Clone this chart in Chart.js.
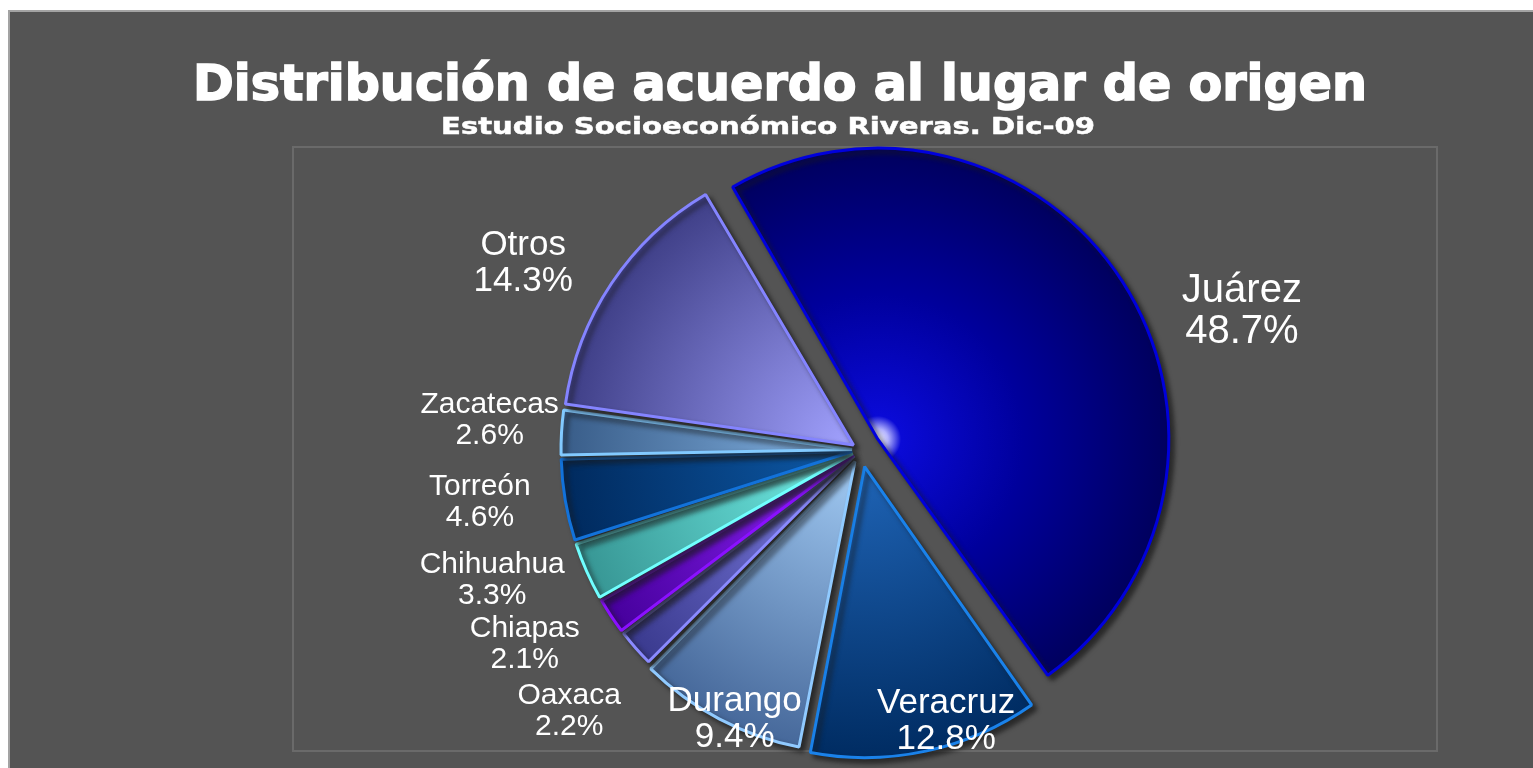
<!DOCTYPE html>
<html>
<head>
<meta charset="utf-8">
<script src="https://cdn.jsdelivr.net/npm/chart.js@4.4.1/dist/chart.umd.min.js"></script>
<style>
  html, body { margin: 0; padding: 0; background: #fff; overflow: hidden; }
  canvas { display: block; }
</style>
</head>
<body>
<canvas id="chart" width="1533" height="768"></canvas>
<script>
// datos
const categories = ['Juárez', 'Veracruz', 'Durango', 'Oaxaca', 'Chiapas', 'Chihuahua', 'Torreón', 'Zacatecas', 'Otros']
const shares = [48.7, 12.8, 9.4, 2.2, 2.1, 3.3, 4.6, 2.6, 14.3]

const chartTitle = 'Distribución de acuerdo al lugar de origen'
const chartSubtitle = 'Estudio Socioeconómico Riveras. Dic-09'

// estilo de cada rebanada (centro -> borde)
const fillInner = ['#0a0ad6', '#1f64b6', '#a2cbf4', '#8484ea', '#9424ff', '#74f2ea', '#0e5aa8', '#86b6e6', '#a2a2ff']
const fillOuter = ['#00005e', '#002c62', '#46689a', '#3a3a8e', '#46009c', '#379694', '#002a5e', '#385c88', '#3e3e86']
const sliceBorders = ['#0000dc', '#1a82ea', '#90caff', '#8a8aff', '#8a10ff', '#70ffff', '#1272da', '#82caff', '#8484ff']
const sliceOffsets = [80, 68, 52, 36, 36, 36, 36, 36, 36] // chart.js divide entre 4
const labelSizes = [40, 35, 35, 30, 30, 30, 30, 30, 35]
const labelDistance = [1.33, 0.91, 0.97, 1.31, 1.30, 1.31, 1.29, 1.25, 1.30]
const labelTurn = [13, -5.8, -2.6, -0.3, 3.9, 4.9, 2.2, 1.6, -4.6] // grados

const pieRadius = 291
const startAngle = -30.5
const labelFont = "'Liberation Sans', Arial, sans-serif"
const titleFont = "'DejaVu Sans', sans-serif"

const total = shares.reduce((a, b) => a + b, 0)

// centro desplazado de cada rebanada
function sliceCenter(area, i) {
  const cx = (area.left + area.right) / 2
  const cy = (area.top + area.bottom) / 2
  const before = shares.slice(0, i).reduce((a, b) => a + b, 0)
  const mid = (startAngle - 90) * Math.PI / 180 + (before + shares[i] / 2) / total * Math.PI * 2
  const off = sliceOffsets[i] / 4
  return { x: cx + Math.cos(mid) * off, y: cy + Math.sin(mid) * off, mid }
}

function sliceFill(context) {
  const i = context.dataIndex
  const area = context.chart.chartArea
  if (!area) return fillOuter[i]
  // el arco ya se traslada al dibujarse, asi que el gradiente usa el centro sin desplazar
  const cx = (area.left + area.right) / 2
  const cy = (area.top + area.bottom) / 2
  const g = context.chart.ctx.createRadialGradient(cx, cy, 0, cx, cy, pieRadius)
  if (i === 0) {
    g.addColorStop(0, '#ffffff')
    g.addColorStop(0.035, '#b4b4ff')
    g.addColorStop(0.08, fillInner[i])
    g.addColorStop(0.5, '#00009c')
  } else {
    g.addColorStop(0, fillInner[i])
  }
  g.addColorStop(1, fillOuter[i])
  return g
}

// fondo, marco y area de trazado
const framePlugin = {
  id: 'frame',
  beforeDraw(chart) {
    const { ctx, width, height } = chart
    ctx.save()
    ctx.fillStyle = '#ffffff'
    ctx.fillRect(0, 0, width, height)
    ctx.fillStyle = '#a3a3a3'
    ctx.fillRect(8, 10, width - 8, height - 10)
    ctx.fillStyle = '#545454'
    ctx.fillRect(10, 12, width - 10, height - 12)
    ctx.strokeStyle = '#6a6a6a'
    ctx.lineWidth = 2
    ctx.strokeRect(293, 147, 1144, 604)
    ctx.restore()
  }
}

// sombra de las rebanadas
const shadowPlugin = {
  id: 'sliceShadow',
  beforeDatasetsDraw(chart) {
    const ctx = chart.ctx
    ctx.save()
    ctx.shadowColor = 'rgba(25, 25, 25, 0.75)'
    ctx.shadowBlur = 5
    ctx.shadowOffsetX = 4
    ctx.shadowOffsetY = 4
  },
  afterDatasetsDraw(chart) {
    chart.ctx.restore()
  }
}

// chart.js agranda el radio de las rebanadas separadas; lo compensamos
const radiusFixPlugin = {
  id: 'radiusFix',
  afterDatasetsUpdate(chart) {
    chart.getDatasetMeta(0).data.forEach(arc => {
      const off = (arc.options.offset || 0) / 4
      const circ = arc.endAngle - arc.startAngle
      const fix = 1 - Math.sin(Math.min(Math.PI, circ))
      arc.outerRadius = pieRadius - off * fix
    })
  }
}

// titulos y etiquetas de datos
const textPlugin = {
  id: 'texts',
  afterDraw(chart) {
    const { ctx, chartArea } = chart
    ctx.save()
    ctx.fillStyle = '#ffffff'
    ctx.strokeStyle = '#ffffff'
    ctx.textAlign = 'center'
    ctx.textBaseline = 'alphabetic'

    ctx.font = `bold 49px ${titleFont}`
    let w = ctx.measureText(chartTitle).width
    ctx.save()
    ctx.translate(780, 100)
    ctx.scale(1174 / w, 1)
    ctx.lineWidth = 1.6
    ctx.fillText(chartTitle, 0, 0)
    ctx.strokeText(chartTitle, 0, 0)
    ctx.restore()

    ctx.font = `bold 23px ${titleFont}`
    w = ctx.measureText(chartSubtitle).width
    ctx.save()
    ctx.translate(768, 134)
    ctx.scale(654 / w, 1)
    ctx.lineWidth = 0.5
    ctx.fillText(chartSubtitle, 0, 0)
    ctx.strokeText(chartSubtitle, 0, 0)
    ctx.restore()

    categories.forEach((name, i) => {
      const c = sliceCenter(chartArea, i)
      const ang = c.mid + labelTurn[i] * Math.PI / 180
      const x = c.x + Math.cos(ang) * pieRadius * labelDistance[i]
      const y = c.y + Math.sin(ang) * pieRadius * labelDistance[i]
      const f = labelSizes[i]
      const b1 = y - 0.157 * f
      ctx.font = `${f}px ${labelFont}`
      ctx.fillText(name, x, b1)
      ctx.fillText(shares[i].toFixed(1) + '%', x, b1 + 1.03 * f)
    })
    ctx.restore()
  }
}

new Chart(document.getElementById('chart'), {
  type: 'pie',
  data: {
    labels: categories,
    datasets: [{
      data: shares,
      backgroundColor: sliceFill,
      borderColor: sliceBorders,
      borderWidth: 3,
      offset: sliceOffsets
    }]
  },
  options: {
    responsive: false,
    animation: false,
    events: [],
    rotation: startAngle,
    radius: pieRadius,
    layout: { padding: { left: 300, right: 111, top: 150, bottom: 18 } },
    plugins: {
      legend: { display: false },
      tooltip: { enabled: false }
    }
  },
  plugins: [framePlugin, shadowPlugin, radiusFixPlugin, textPlugin]
})
</script>
</body>
</html>
